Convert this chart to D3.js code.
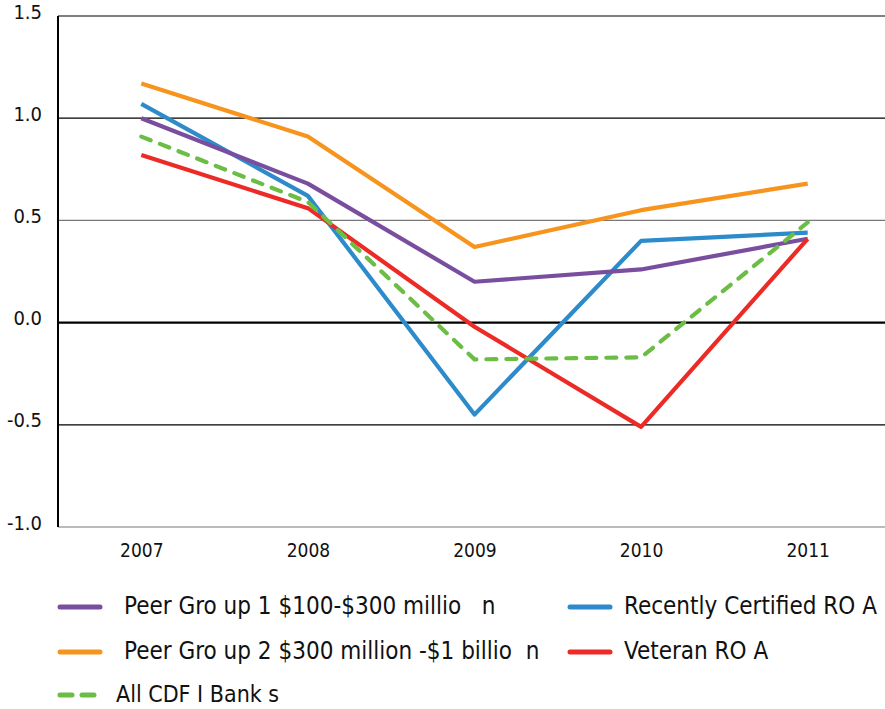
<!DOCTYPE html>
<html>
<head>
<meta charset="utf-8">
<script src="https://cdn.jsdelivr.net/npm/d3@7"></script>
<style>
  body { margin: 0; background: #fff; }
  svg text { font-family: "Liberation Sans Narrow", "DejaVu Sans Condensed", "Liberation Sans", sans-serif; fill: #111; }
</style>
</head>
<body>
<div id="chart"></div>
<script>
var years = ["2007", "2008", "2009", "2010", "2011"];
var yTicks = [-1.0, -0.5, 0.0, 0.5, 1.0, 1.5];

var peer1 = [1.00, 0.68, 0.20, 0.26, 0.41];
var peer2 = [1.17, 0.91, 0.37, 0.55, 0.68];
var recent = [1.07, 0.62, -0.45, 0.40, 0.44];
var allCdfi = [0.91, 0.59, -0.18, -0.17, 0.49];
var veteran = [0.82, 0.56, -0.02, -0.51, 0.41];

var seriesNames = ["Peer Gro up 1 $100-$300 millio   n", "Peer Gro up 2 $300 million -$1 billio  n",
                   "All CDF I Bank s", "Recently Certified RO A", "Veteran RO A"];
var seriesColors = ["#7a4e9f", "#f7941e", "#6bbd45", "#2e8bcb", "#ec2a26"];

function init(){
    var w = 885;
    var h = 709;
    var left = 58, right = 891, top = 16, bottom = 527;

    var series = [
        {name: seriesNames[3], values: recent, color: seriesColors[3], dash: null},
        {name: seriesNames[1], values: peer2, color: seriesColors[1], dash: null},
        {name: seriesNames[0], values: peer1, color: seriesColors[0], dash: null},
        {name: seriesNames[4], values: veteran, color: seriesColors[4], dash: null},
        {name: seriesNames[2], values: allCdfi, color: seriesColors[2], dash: "10,10"}
    ];

    var xscale = d3.scalePoint()
                    .domain(years)
                    .range([left, right])
                    .padding(0.5);

    var yscale = d3.scaleLinear()
                    .domain([-1, 1.5])
                    .range([bottom, top]);

    var svg = d3.select("#chart")
                .append("svg")
                .attr("width", w)
                .attr("height", h);

    // gridlines
    svg.selectAll("line.grid")
        .data(yTicks)
        .enter()
        .append("line")
        .attr("class", "grid")
        .attr("x1", left)
        .attr("x2", w)
        .attr("y1", function(d) { return yscale(d); })
        .attr("y2", function(d) { return yscale(d); })
        .attr("stroke", function(d) {
            if (d === 0) return "#000";
            return (d === 0.5 || d === -1) ? "#777" : "#000";
        })
        .attr("stroke-width", function(d) { return d === 0 ? 2.2 : 1.2; });

    // left axis line
    svg.append("line")
        .attr("x1", left).attr("x2", left)
        .attr("y1", yscale(1.5)).attr("y2", yscale(-1))
        .attr("stroke", "#000")
        .attr("stroke-width", 2);

    var yAxis = d3.axisLeft(yscale)
                    .tickValues(yTicks)
                    .tickFormat(function(d) { return d3.format(".1f")(d).replace("\u2212", "-"); })
                    .tickSize(0)
                    .tickPadding(16);

    var gy = svg.append("g")
        .attr("transform", `translate(${left}, 0)`)
        .call(yAxis);
    gy.select(".domain").remove();
    gy.selectAll("text").style("font-size", "20px").attr("dy", "0.1em");

    var xAxis = d3.axisBottom(xscale)
                    .tickSize(0)
                    .tickPadding(17);

    var gx = svg.append("g")
        .attr("transform", "translate(0, " + bottom + ")")
        .call(xAxis);
    gx.select(".domain").remove();
    gx.selectAll("text").style("font-size", "19px");

    var line = d3.line()
        .x(function(d, i) { return xscale(years[i]); })
        .y(function(d) { return yscale(d); });

    svg.selectAll("path.series")
        .data(series)
        .enter()
        .append("path")
        .attr("class", "series")
        .attr("d", function(d) { return line(d.values); })
        .attr("fill", "none")
        .attr("stroke", function(d) { return d.color; })
        .attr("stroke-width", 4.2)
        .attr("stroke-linejoin", "round")
        .attr("stroke-linecap", function(d) { return d.dash ? "round" : "butt"; })
        .attr("stroke-dasharray", function(d) { return d.dash; });

    // legend
    var legendItems = [
        {i: 0, x: 60, y: 607, tx: 124},
        {i: 1, x: 60, y: 652, tx: 124},
        {i: 2, x: 60, y: 695, tx: 116},
        {i: 3, x: 570, y: 607, tx: 624},
        {i: 4, x: 570, y: 652, tx: 624}
    ];

    var lg = svg.selectAll("g.legend")
        .data(legendItems)
        .enter()
        .append("g")
        .attr("class", "legend");

    lg.append("line")
        .attr("x1", function(d) { return d.x; })
        .attr("x2", function(d) { return d.x + 40; })
        .attr("y1", function(d) { return d.y; })
        .attr("y2", function(d) { return d.y; })
        .attr("stroke", function(d) { return seriesColors[d.i]; })
        .attr("stroke-width", 5)
        .attr("stroke-linecap", "round")
        .attr("stroke-dasharray", function(d) { return d.i === 2 ? "12,10" : null; });

    lg.append("text")
        .attr("x", function(d) { return d.tx; })
        .attr("y", function(d) { return d.y + 7; })
        .style("font-size", function(d) { return d.i === 2 ? "23px" : "24px"; })
        .style("white-space", "pre")
        .attr("xml:space", "preserve")
        .text(function(d) { return seriesNames[d.i]; });
}
window.onload = init;
</script>
</body>
</html>
